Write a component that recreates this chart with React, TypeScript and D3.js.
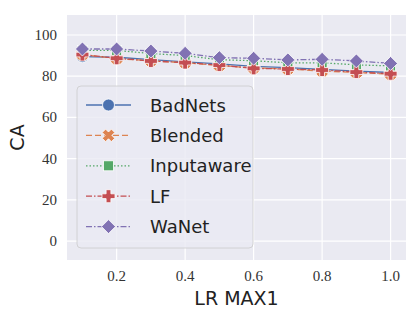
import React from "react";
import * as d3 from "d3";

const xValues = [0.1, 0.2, 0.3, 0.4, 0.5, 0.6, 0.7, 0.8, 0.9, 1.0];
const badNets = [89.5, 89.2, 88.0, 87.0, 86.0, 84.8, 84.2, 83.3, 82.5, 81.8];
const blended = [90.5, 88.5, 87.5, 86.5, 85.2, 84.0, 83.5, 82.5, 81.8, 81.0];
const inputaware = [92.5, 92.5, 91.0, 90.0, 88.0, 87.5, 86.5, 86.5, 85.5, 85.0];
const lf = [90.5, 88.7, 87.4, 86.6, 85.4, 83.8, 83.5, 83.0, 82.0, 81.2];
const waNet = [93.2, 93.2, 92.2, 91.1, 89.0, 88.7, 87.9, 88.2, 87.4, 86.2];
const seriesNames = ["BadNets", "Blended", "Inputaware", "LF", "WaNet"];
const xTicks = [0.2, 0.4, 0.6, 0.8, 1.0];
const yTicks = [0, 20, 40, 60, 80, 100];

const colors = ["#4C72B0", "#DD8452", "#55A868", "#C44E52", "#8172B3"];
const dashes = ["", "6,3", "1.5,2", "6,2,1.5,2", "6,2,1.5,2"];
const markers = ["circle", "x", "square", "plus", "diamond"];

function Marker({ type, x, y, color }: { type: string; x: number; y: number; color: string }) {
  const s = 1;
  if (type === "circle") return <circle cx={x} cy={y} r={6} fill={color} stroke="#fff" strokeWidth={0.8} />;
  if (type === "square") return <rect x={x - 5} y={y - 5} width={10} height={10} fill={color} stroke="#fff" strokeWidth={0.8} />;
  if (type === "diamond") {
    const r = 7;
    return <path d={`M${x},${y - r}L${x + r},${y}L${x},${y + r}L${x - r},${y}Z`} fill={color} stroke="#fff" strokeWidth={0.8} />;
  }
  if (type === "plus") {
    const a = 6.5, b = 2.4;
    const d = `M${x - b},${y - a}H${x + b}V${y - b}H${x + a}V${y + b}H${x + b}V${y + a}H${x - b}V${y + b}H${x - a}V${y - b}H${x - b}Z`;
    return <path d={d} fill={color} stroke="#fff" strokeWidth={0.8} />;
  }
  // x marker
  const a = 6.5, b = 2.4;
  const d = `M${x - b},${y - a}H${x + b}V${y - b}H${x + a}V${y + b}H${x + b}V${y + a}H${x - b}V${y + b}H${x - a}V${y - b}H${x - b}Z`;
  return <path d={d} transform={`rotate(45 ${x} ${y})`} fill={color} stroke="#fff" strokeWidth={0.8} />;
}

export default function App() {
  const W = 415, H = 311;
  const left = 67, right = 406, top = 15, bottom = 260;
  const x = d3.scaleLinear().domain([0.055, 1.045]).range([left, right]);
  const y = d3.scaleLinear().domain([-9.2, 109.7]).range([bottom, top]);
  const data = [badNets, blended, inputaware, lf, waNet];
  const line = d3.line<number>().x((_, i) => x(xValues[i])).y((d) => y(d));
  const serif = "'Liberation Serif', 'DejaVu Serif', serif";
  const sans = "'DejaVu Sans', sans-serif";

  const legX = 77, legY = 86, legW = 176, legH = 162;
  const rowY = (i: number) => legY + 19 + i * 30.4;

  return (
    <svg width={W} height={H} style={{ position: "absolute", left: 0, top: 0 }}>
      <rect x={0} y={0} width={W} height={H} fill="#fff" />
      <rect x={left} y={top} width={right - left} height={bottom - top} fill="#EAEAF2" />
      {xTicks.map((t) => (
        <line key={"gx" + t} x1={x(t)} x2={x(t)} y1={top} y2={bottom} stroke="#fff" strokeWidth={1.2} />
      ))}
      {yTicks.map((t) => (
        <line key={"gy" + t} x1={left} x2={right} y1={y(t)} y2={y(t)} stroke="#fff" strokeWidth={1.2} />
      ))}
      {data.map((s, k) => (
        <path key={"l" + k} d={line(s) || ""} fill="none" stroke={colors[k]} strokeWidth={1.3} strokeDasharray={dashes[k]} />
      ))}
      {data.map((s, k) =>
        s.map((v, i) => <Marker key={`m${k}-${i}`} type={markers[k]} x={x(xValues[i])} y={y(v)} color={colors[k]} />)
      )}
      {xTicks.map((t) => (
        <text key={"tx" + t} x={x(t)} y={281} textAnchor="middle" fontFamily={serif} fontSize={15} fill="#333">
          {t.toFixed(1)}
        </text>
      ))}
      {yTicks.map((t) => (
        <text key={"ty" + t} x={57} y={y(t) + 5} textAnchor="end" fontFamily={serif} fontSize={15} fill="#333">
          {t}
        </text>
      ))}
      <text x={(left + right) / 2} y={305} textAnchor="middle" fontFamily={sans} fontSize={19} fill="#222">
        LR MAX1
      </text>
      <text transform={`translate(24,${(top + bottom) / 2}) rotate(-90)`} textAnchor="middle" fontFamily={sans} fontSize={19} fill="#222">
        CA
      </text>
      <rect x={legX} y={legY} width={legW} height={legH} rx={4} fill="#EAEAF2" fillOpacity={0.8} stroke="#cccccc" strokeWidth={0.8} />
      {seriesNames.map((n, i) => (
        <g key={"leg" + i}>
          <line x1={86} x2={131} y1={rowY(i)} y2={rowY(i)} stroke={colors[i]} strokeWidth={1.3} strokeDasharray={dashes[i]} />
          <Marker type={markers[i]} x={108.5} y={rowY(i)} color={colors[i]} />
          <text x={150} y={rowY(i) + 6.5} fontFamily={sans} fontSize={18} fill="#222">
            {n}
          </text>
        </g>
      ))}
    </svg>
  );
}
